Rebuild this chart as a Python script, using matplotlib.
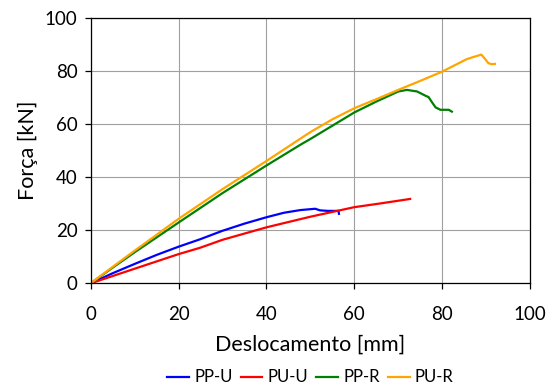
import matplotlib
matplotlib.use("Agg")
import matplotlib.pyplot as plt

plt.rcParams['font.family'] = ['Lato', 'DejaVu Sans']

# PP-U
ppu_x = [0, 5, 10, 15, 20, 24.9, 30, 35, 40, 44, 47.7, 51.1, 52.2, 54.0, 56.4, 56.5]
ppu_y = [0, 3.8, 7.3, 10.7, 13.8, 16.6, 19.8, 22.5, 24.9, 26.6, 27.6, 28.1, 27.5, 27.3, 27.3, 26.2]

# PU-U
puu_x = [0, 10, 20, 24.9, 30, 40, 50, 60, 65.9, 72.7]
puu_y = [0, 5.5, 11.0, 13.4, 16.4, 21.1, 25.1, 28.7, 30.1, 31.8]

# PP-R
ppr_x = [0, 5, 10, 20, 30, 40, 47.7, 50, 60, 65, 70, 72, 74.3, 76.2, 76.9, 77.7, 78.5, 79.6, 81.5, 82.2]
ppr_y = [0, 5.9, 11.7, 22.9, 34.0, 44.4, 52.2, 54.4, 64.4, 68.5, 72.3, 72.9, 72.3, 70.7, 70.2, 68.2, 66.3, 65.4, 65.4, 64.7]

# PU-R
pur_x = [0, 5, 10, 20, 30, 40, 50, 55, 60, 65, 70, 75, 80, 85.6, 87.1, 88.9, 89.6, 90.5, 91.2, 92.0]
pur_y = [0, 6.2, 12.3, 24.3, 35.5, 46.1, 57.0, 61.8, 66.0, 69.4, 72.9, 76.3, 79.8, 84.5, 85.3, 86.2, 84.9, 83.0, 82.6, 82.7]

fig = plt.figure(figsize=(5.51, 3.89), dpi=100)
ax = fig.add_axes([0.1646, 0.2717, 0.7974, 0.682])

lw = 1.6
ax.plot(ppu_x, ppu_y, color="#0000ff", lw=lw, label="PP-U")
ax.plot(puu_x, puu_y, color="#ff0000", lw=lw, label="PU-U")
ax.plot(ppr_x, ppr_y, color="#008000", lw=lw, label="PP-R")
ax.plot(pur_x, pur_y, color="#ffa500", lw=lw, label="PU-R")

ax.set_xlim(0, 100)
ax.set_ylim(0, 100)
ax.set_xticks(range(0, 101, 20))
ax.set_yticks(range(0, 101, 20))
ax.grid(True, color="#a0a0a0", lw=0.8)
ax.set_axisbelow(True)
for s in ax.spines.values():
    s.set_color("black")
    s.set_linewidth(0.9)

ax.tick_params(axis="x", direction="out", length=4.5, width=0.9, pad=12, labelsize=13.5)
ax.tick_params(axis="y", direction="out", length=4.5, width=0.9, pad=5, labelsize=13.5)

ax.set_xlabel("Deslocamento [mm]", fontsize=15.5, labelpad=8)
ax.set_ylabel("Força [kN]", fontsize=15.5, labelpad=5)

ax.legend(loc="center", bbox_to_anchor=(0.5, -0.355), ncol=4, frameon=False,
          fontsize=12, handlelength=1.3, handletextpad=0.3, columnspacing=0.5,
          borderpad=0.1)

fig.savefig("out.png", dpi=100)
